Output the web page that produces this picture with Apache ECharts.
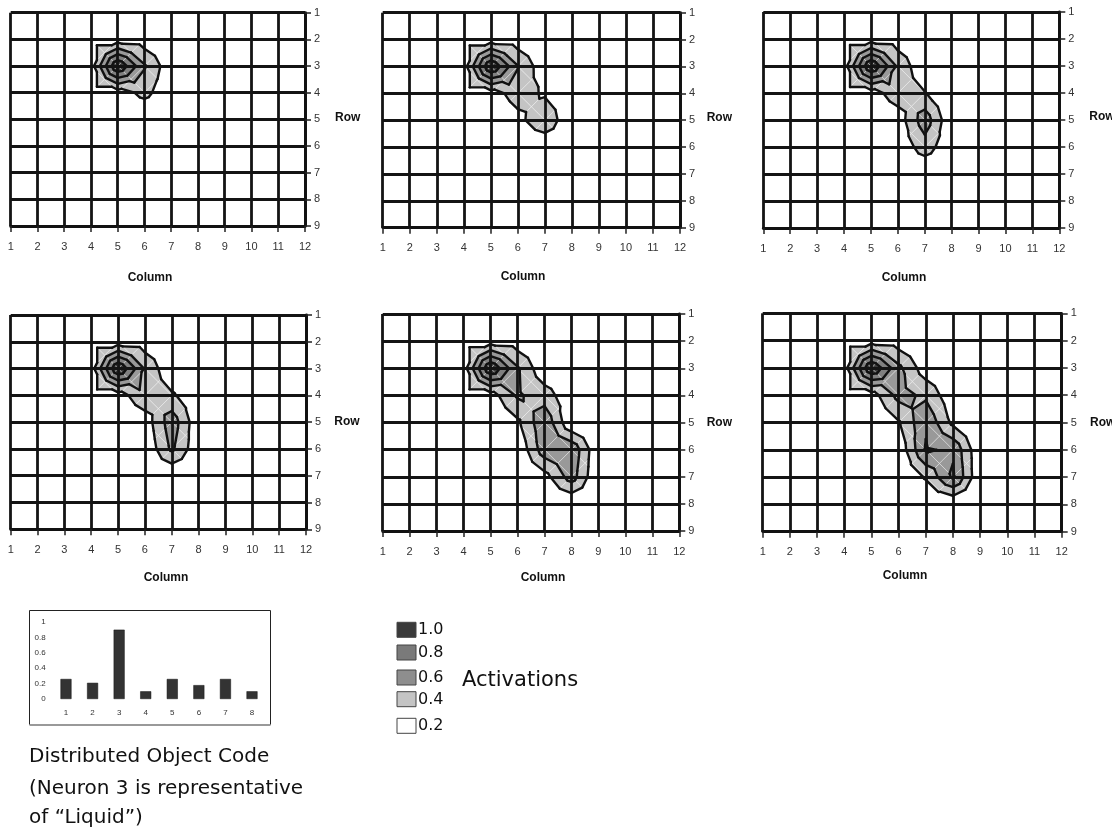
<!DOCTYPE html>
<html><head><meta charset="utf-8">
<script src="https://cdn.jsdelivr.net/npm/echarts@6/dist/echarts.min.js"></script>
<style>html,body{margin:0;padding:0;background:#fff}#c{width:1112px;height:827px}</style>
</head><body><div id="c"></div>
<script>
// ---------- data ----------
const columnTicks = [1,2,3,4,5,6,7,8,9,10,11,12];
const rowTicks = [1,2,3,4,5,6,7,8,9];
const activationLevels = [0.2, 0.4, 0.6, 0.8];
const legendLabels = ['1.0','0.8','0.6','0.4','0.2'];
const neuronCategories = ['1','2','3','4','5','6','7','8'];
const neuronValues = [0.26, 0.21, 0.90, 0.10, 0.26, 0.18, 0.26, 0.10];

// activation grids: 9 rows (Row 1..9) x 12 columns (Column 1..12)
const panel1 = [
 [0,0,0,0,0,0,0,0,0,0,0,0],
 [0,0,0,0.1,0.1,0.08,0,0,0,0,0,0],
 [0,0,0,0.1,1.0,0.42,0.05,0,0,0,0,0],
 [0,0,0,0.1,0.1,0.26,0.05,0,0,0,0,0],
 [0,0,0,0,0,0,0,0,0,0,0,0],
 [0,0,0,0,0,0,0,0,0,0,0,0],
 [0,0,0,0,0,0,0,0,0,0,0,0],
 [0,0,0,0,0,0,0,0,0,0,0,0],
 [0,0,0,0,0,0,0,0,0,0,0,0]];
const panel2 = [
 [0,0,0,0,0,0,0,0,0,0,0,0],
 [0,0,0,0.1,0.1,0.08,0,0,0,0,0,0],
 [0,0,0,0.1,1.0,0.41,0.05,0,0,0,0,0],
 [0,0,0,0.1,0.1,0.3,0.17,0.05,0,0,0,0],
 [0,0,0,0,0,0.13,0.38,0,0,0,0,0],
 [0,0,0,0,0,0,0,0,0,0,0,0],
 [0,0,0,0,0,0,0,0,0,0,0,0],
 [0,0,0,0,0,0,0,0,0,0,0,0],
 [0,0,0,0,0,0,0,0,0,0,0,0]];
const panel3 = [
 [0,0,0,0,0,0,0,0,0,0,0,0],
 [0,0,0,0.1,0.1,0.08,0,0,0,0,0,0],
 [0,0,0,0.1,1.0,0.36,0.02,0,0,0,0,0],
 [0,0,0,0.1,0.1,0.32,0.21,0.02,0,0,0,0],
 [0,0,0,0,0,0.08,0.52,0.02,0,0,0,0],
 [0,0,0,0,0,0.05,0.3,0.05,0,0,0,0],
 [0,0,0,0,0,0,0,0,0,0,0,0],
 [0,0,0,0,0,0,0,0,0,0,0,0],
 [0,0,0,0,0,0,0,0,0,0,0,0]];
const panel4 = [
 [0,0,0,0,0,0,0,0,0,0,0,0],
 [0,0,0,0.1,0.1,0.08,0,0,0,0,0,0],
 [0,0,0,0.1,1.0,0.38,0.02,0,0,0,0,0],
 [0,0,0,0.1,0.1,0.36,0.23,0.05,0,0,0,0],
 [0,0,0,0,0,0.08,0.52,0.04,0,0,0,0],
 [0,0,0,0,0,0.02,0.44,0.04,0,0,0,0],
 [0,0,0,0,0,0,0,0,0,0,0,0],
 [0,0,0,0,0,0,0,0,0,0,0,0],
 [0,0,0,0,0,0,0,0,0,0,0,0]];
const panel5 = [
 [0,0,0,0,0,0,0,0,0,0,0,0],
 [0,0,0,0.1,0.1,0.08,0,0,0,0,0,0],
 [0,0,0,0.1,1.0,0.42,0.04,0,0,0,0,0],
 [0,0,0,0.1,0.1,0.43,0.3,0.05,0,0,0,0],
 [0,0,0,0,0,0.16,0.56,0.02,0,0,0,0],
 [0,0,0,0,0,0.02,0.52,0.56,0.02,0,0,0],
 [0,0,0,0,0,0,0.12,0.5,0,0,0,0],
 [0,0,0,0,0,0,0,0,0,0,0,0],
 [0,0,0,0,0,0,0,0,0,0,0,0]];
const panel6 = [
 [0,0,0,0,0,0,0,0,0,0,0,0],
 [0,0,0,0.1,0.1,0.08,0,0,0,0,0,0],
 [0,0,0,0.1,1.0,0.45,0.08,0,0,0,0,0],
 [0,0,0,0.1,0.1,0.47,0.36,0.05,0,0,0,0],
 [0,0,0,0,0,0.18,0.57,0.15,0,0,0,0],
 [0,0,0,0,0,0.04,0.62,0.57,0.02,0,0,0],
 [0,0,0,0,0,0,0.22,0.63,0.02,0,0,0],
 [0,0,0,0,0,0,0.02,0,0,0,0,0],
 [0,0,0,0,0,0,0,0,0,0,0,0]];
const panels = [panel1, panel2, panel3, panel4, panel5, panel6];

// ---------- layout & style ----------
const bandColors = ['#c4c4c4', '#999999', '#808080', '#3c3c3c'];
const legendFills = ['#3a3a3a', '#7a7a7a', '#8e8e8e', '#c4c4c4', '#ffffff'];
const panelBoxes = [
  [10.7, 12.7, 294.3, 213.3],
  [382.7, 12.7, 297.3, 215],
  [763.3, 12, 296, 216],
  [10.7, 315, 295.3, 214.3],
  [382.7, 314, 296.6, 217],
  [762.7, 313.3, 299, 218.4]
];
const columnNamePos = [[150,278],[523,277],[904,278],[166,578],[543,578],[905,576]];
const rowNamePos = [[335,118],[706.7,118],[1089.3,117],[334.3,422],[706.7,423],[1090,423]];
const legendSwatchTops = [622.3, 645, 670, 691.7, 718.3];
const EPS = 1e-7;

const cells = [];
for (let i = 0; i < columnTicks.length - 1; i++)
  for (let j = 0; j < rowTicks.length - 1; j++)
    cells.push([columnTicks[i], rowTicks[j]]);

function clipPoly(poly, L, keepAbove) {
  const out = [];
  for (let i = 0; i < poly.length; i++) {
    const p = poly[i], q = poly[(i + 1) % poly.length];
    const pin = keepAbove ? p[2] >= L : p[2] < L;
    const qin = keepAbove ? q[2] >= L : q[2] < L;
    if (pin) out.push(p);
    if (pin !== qin) {
      const t = (L - p[2]) / (q[2] - p[2]);
      out.push([p[0] + t * (q[0] - p[0]), p[1] + t * (q[1] - p[1]), L]);
    }
  }
  return out;
}
function cellTriangles(V, c, r) {
  const g = (cc, rr) => V[rr - 1][cc - 1] + EPS * (1 + cc * 0.37 + rr * 0.11);
  const P = [[c, r, g(c, r)], [c + 1, r, g(c + 1, r)], [c + 1, r + 1, g(c + 1, r + 1)], [c, r + 1, g(c, r + 1)]];
  const m = (P[0][2] + P[1][2] + P[2][2] + P[3][2]) / 4 + EPS * 0.5;
  const C = [c + 0.5, r + 0.5, m];
  return [0, 1, 2, 3].map(i => [P[i], P[(i + 1) % 4], C]);
}
function makeRender(V, mode) {
  return function (params, api) {
    const c = api.value(0), r = api.value(1);
    const tris = cellTriangles(V, c, r);
    const children = [];
    tris.forEach(tri => {
      if (mode === 'fill') {
        activationLevels.forEach((lo, k) => {
          const hi = k + 1 < activationLevels.length ? activationLevels[k + 1] : null;
          let poly = clipPoly(tri, lo, true);
          if (hi !== null && poly.length) poly = clipPoly(poly, hi, false);
          if (poly.length >= 3) {
            children.push({ type: 'polygon', shape: { points: poly.map(p => api.coord([p[0], p[1]])) },
              style: { fill: bandColors[k], stroke: 'rgba(255,255,255,0.45)', lineWidth: 0.7 } });
          }
        });
      } else {
        activationLevels.forEach(L => {
          const pts = [];
          for (let j = 0; j < 3; j++) {
            const p = tri[j], q = tri[(j + 1) % 3];
            if ((p[2] - L) * (q[2] - L) < 0) {
              const t = (L - p[2]) / (q[2] - p[2]);
              pts.push(api.coord([p[0] + t * (q[0] - p[0]), p[1] + t * (q[1] - p[1])]));
            }
          }
          if (pts.length === 2) {
            children.push({ type: 'line', shape: { x1: pts[0][0], y1: pts[0][1], x2: pts[1][0], y2: pts[1][1] },
              style: { stroke: '#111', lineWidth: 2.4, lineCap: 'round' } });
          }
        });
      }
    });
    return { type: 'group', children };
  };
}

const grids = [], xAxes = [], yAxes = [], series = [], graphics = [];
const labelFont = 'Liberation Sans, Arial, sans-serif';
const gridLine = { show: true, lineStyle: { color: '#141414', width: 2.8 } };
panels.forEach((V, i) => {
  const b = panelBoxes[i];
  grids.push({ left: b[0], top: b[1], width: b[2], height: b[3], outerBoundsMode: 'none', containLabel: false });
  xAxes.push({
    gridIndex: i, type: 'value', min: columnTicks[0], max: columnTicks[columnTicks.length - 1], interval: 1, z: 10,
    axisLine: { show: true, lineStyle: { color: '#111', width: 2.8 } },
    axisTick: { show: true, length: 6, lineStyle: { color: '#222', width: 1.5 } },
    axisLabel: { margin: 15, color: '#333', fontSize: 11, fontFamily: labelFont },
    splitLine: gridLine
  });
  yAxes.push({
    gridIndex: i, type: 'value', min: rowTicks[0], max: rowTicks[rowTicks.length - 1], interval: 1, inverse: true,
    position: 'right', z: 10,
    axisLine: { show: true, lineStyle: { color: '#111', width: 2.8 } },
    axisTick: { show: true, length: 6, lineStyle: { color: '#222', width: 1.5 } },
    axisLabel: { margin: 9, color: '#333', fontSize: 11, fontFamily: labelFont },
    splitLine: gridLine
  });
  ['fill', 'line'].forEach((mode, k) => {
    series.push({
      type: 'custom', xAxisIndex: i, yAxisIndex: i, data: cells, encode: { x: 0, y: 1 },
      renderItem: makeRender(V, mode), clip: true, z: 2 + k, silent: true
    });
  });
  graphics.push({ type: 'text', x: columnNamePos[i][0], y: columnNamePos[i][1],
    style: { text: 'Column', font: 'bold 12px ' + labelFont, fill: '#111', align: 'center', verticalAlign: 'middle' } });
  graphics.push({ type: 'text', x: rowNamePos[i][0], y: rowNamePos[i][1],
    style: { text: 'Row', font: 'bold 12px ' + labelFont, fill: '#111', align: 'left', verticalAlign: 'middle' } });
});

// bar chart
const bi = panels.length;
grids.push({ left: 52.7, top: 622, width: 212.6, height: 77, outerBoundsMode: 'none', containLabel: false });
xAxes.push({ gridIndex: bi, type: 'category', data: neuronCategories,
  axisLine: { show: false }, axisTick: { show: false },
  axisLabel: { margin: 10, color: '#333', fontSize: 8, fontFamily: labelFont } });
yAxes.push({ gridIndex: bi, type: 'value', min: 0, max: 1, interval: 0.2,
  axisLine: { show: false }, axisTick: { show: false }, splitLine: { show: false },
  axisLabel: { margin: 7, color: '#333', fontSize: 8, fontFamily: labelFont } });
series.push({ type: 'bar', xAxisIndex: bi, yAxisIndex: bi, data: neuronValues, barWidth: 11,
  itemStyle: { color: '#333', borderColor: '#111', borderWidth: 0.5 }, silent: true });

graphics.push({ type: 'rect', shape: { x: 29.5, y: 610.5, width: 241, height: 114 },
  style: { fill: 'none', stroke: '#222', lineWidth: 1 } });
graphics.push({ type: 'line', shape: { x1: 29.5, y1: 725, x2: 270.5, y2: 725 },
  style: { stroke: '#999', lineWidth: 2 } });

const textFont = 'DejaVu Sans, sans-serif';
[['Distributed Object Code', 757], ['(Neuron 3 is representative', 789], ['of \u201CLiquid\u201D)', 818]].forEach(t => {
  graphics.push({ type: 'text', x: 29, y: t[1],
    style: { text: t[0], font: '20px ' + textFont, fill: '#111', align: 'left', verticalAlign: 'middle' } });
});

legendLabels.forEach((lab, k) => {
  const top = legendSwatchTops[k];
  graphics.push({ type: 'rect', shape: { x: 397, y: top, width: 19, height: 15 },
    style: { fill: legendFills[k], stroke: '#444', lineWidth: 1 } });
  graphics.push({ type: 'text', x: 418, y: top + 8,
    style: { text: lab, font: '16px ' + textFont, fill: '#111', align: 'left', verticalAlign: 'middle' } });
});
graphics.push({ type: 'text', x: 462, y: 681,
  style: { text: 'Activations', font: '21px ' + textFont, fill: '#111', align: 'left', verticalAlign: 'middle' } });

const chart = echarts.init(document.getElementById('c'), null, { renderer: 'canvas' });
chart.setOption({
  animation: false,
  backgroundColor: '#fff',
  grid: grids, xAxis: xAxes, yAxis: yAxes, series: series,
  graphic: { elements: graphics }
});
</script></body></html>
